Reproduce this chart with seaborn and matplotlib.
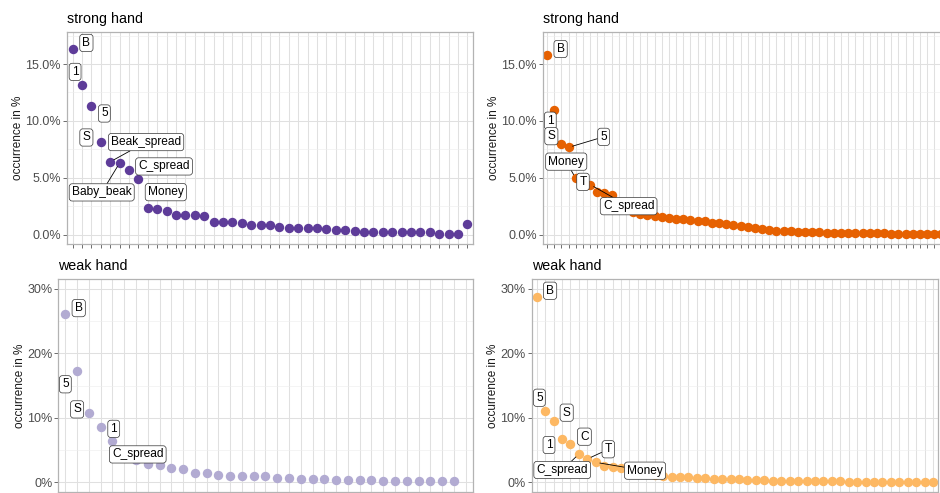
import numpy as np
import pandas as pd
import matplotlib
matplotlib.use("Agg")
import matplotlib.pyplot as plt
import seaborn as sns
from matplotlib.ticker import FuncFormatter, MultipleLocator

sns.set_theme(style="whitegrid")
plt.rcParams['font.family'] = ['Liberation Sans', 'DejaVu Sans']

# ---- data: share of each call type, sorted by frequency ----
# strong hand, group A (purple)
strong_a_labels = ["B", "1", "5", "S", "Beak_spread", "Baby_beak", "C_spread", "Money"]
strong_a_values = [16.3, 13.2, 11.3, 8.1, 6.4, 6.3, 5.7, 4.9,
                   2.3, 2.25, 2.1, 1.75, 1.75, 1.75, 1.6, 1.08, 1.08, 1.08, 1.0,
                   0.88, 0.88, 0.88, 0.67, 0.56, 0.56, 0.56, 0.56, 0.5, 0.41, 0.41,
                   0.32, 0.23, 0.23, 0.23, 0.23, 0.23, 0.18, 0.18, 0.18, 0.09, 0.09,
                   0.09, 0.96]

# strong hand, group B (orange)
strong_b_labels = ["B", "1", "S", "5", "Money", "T", "C_spread"]
strong_b_values = [15.8, 10.96, 7.97, 7.67, 4.95, 4.7, 4.4, 3.77, 3.63, 3.5,
                   2.6, 2.3, 2.0, 1.85, 1.72, 1.6, 1.57, 1.43, 1.36, 1.34, 1.28,
                   1.19, 1.16, 1.04, 0.99, 0.92, 0.84, 0.72, 0.63, 0.54, 0.46,
                   0.4, 0.34, 0.28, 0.28, 0.25, 0.25, 0.19, 0.19, 0.16, 0.16,
                   0.16, 0.16, 0.13, 0.1, 0.1, 0.1, 0.1, 0.07, 0.07, 0.07, 0.04,
                   0.04, 0.04, 0.04, 0.04]

# weak hand, group A (light purple); last category has no observation
weak_a_labels = ["B", "5", "S", "1", "C_spread"]
weak_a_values = [26.1, 17.3, 10.8, 8.6, 6.4, 4.6, 3.4, 2.84, 2.69, 2.17, 2.02,
                 1.52, 1.52, 1.15, 0.98, 0.98, 0.98, 0.98, 0.72, 0.72, 0.51,
                 0.51, 0.51, 0.33, 0.33, 0.33, 0.33, 0.18, 0.18, 0.18, 0.18,
                 0.18, 0.18, 0.18, np.nan]

# weak hand, group B (light orange)
weak_b_labels = ["B", "5", "S", "1", "C", "C_spread", "T", "Money"]
weak_b_values = [28.8, 11.1, 9.56, 6.72, 5.9, 4.39, 3.62, 3.1, 2.55, 2.38,
                 2.17, 2.0, 1.8, 1.5, 1.2, 1.0, 0.85, 0.8, 0.75, 0.65, 0.62,
                 0.55, 0.5, 0.48, 0.45, 0.38, 0.36, 0.34, 0.25, 0.22, 0.2, 0.2,
                 0.18, 0.16, 0.15, 0.14, 0.13, 0.12, 0.11, 0.1, 0.09, 0.08,
                 0.07, 0.06, 0.05, 0.04, 0.03, 0.02]

panel_titles = ["strong hand", "strong hand", "weak hand", "weak hand"]
panel_colors = ["#5e3c99", "#e66101", "#b2abd2", "#fdb863"]

# label offsets (points) and whether a leader segment is drawn
strong_a_offsets = [(9.9, 4.6, 0), (-5.0, 9.1, 0), (9.3, -5.3, 0), (-10.4, 3.6, 0),
                    (25.8, 14.2, 1), (-12.9, -21.2, 1), (25.2, 2.4, 0), (19.7, -9.6, 0)]
strong_b_offsets = [(9.8, 4.3, 0), (-2.8, -7.7, 0), (-7.2, 5.6, 0), (25.3, 7.6, 1),
                    (-6.8, 12.0, 1), (0.1, -0.5, 0), (27.8, -15.6, 1)]
weak_a_offsets = [(9.6, 4.3, 0), (-8.5, -9.7, 0), (-8.5, 2.4, 0), (9.4, -1.4, 0),
                  (18.2, -9.6, 0)]
weak_b_offsets = [(9.6, 4.3, 0), (-4.2, 9.4, 0), (9.4, 5.8, 0), (-9.4, -4.3, 0),
                  (10.0, 5.5, 0), (-12.0, -11.5, 1), (15.1, 7.0, 1), (35.5, -6.0, 1)]

W, H = 940, 493
fig = plt.figure(figsize=(W / 100, H / 100), dpi=100)


def px_axes(l, r, t, b):
    return fig.add_axes([l / W, 1 - b / H, (r - l) / W, (b - t) / H])


panels = [
    (px_axes(67, 473, 31.7, 244.2), strong_a_values, strong_a_labels, strong_a_offsets,
     (-0.85, 17.85), 5.0, 2.5, "{:.1f}%"),
    (px_axes(542.7, 945.7, 31.7, 244.2), strong_b_values, strong_b_labels, strong_b_offsets,
     (-0.85, 17.85), 5.0, 2.5, "{:.1f}%"),
    (px_axes(58.3, 472.7, 279.3, 492), weak_a_values, weak_a_labels, weak_a_offsets,
     (-1.5, 31.5), 10.0, 5.0, "{:.0f}%"),
    (px_axes(531.7, 938, 279.3, 492), weak_b_values, weak_b_labels, weak_b_offsets,
     (-1.5, 31.5), 10.0, 5.0, "{:.0f}%"),
]

for k, (ax, values, labels, offsets, ylim, major, minor, fmt) in enumerate(panels):
    n = len(values)
    names = labels + [""] * (n - len(labels))
    df = pd.DataFrame({"rank": np.arange(n), "share": values, "call": names})

    sns.scatterplot(data=df, x="rank", y="share", ax=ax, color=panel_colors[k],
                    s=46, linewidth=0, legend=False, zorder=2)

    ax.set_xlim(-0.6, n - 1 + 0.6)
    ax.set_ylim(*ylim)
    ax.set_xticks(np.arange(n))
    ax.set_xticklabels([])
    ax.yaxis.set_major_locator(MultipleLocator(major))
    ax.yaxis.set_minor_locator(MultipleLocator(minor))
    ax.yaxis.set_major_formatter(FuncFormatter(lambda v, p, f=fmt: f.format(v)))

    ax.grid(which="major", color="#E0E0E0", linewidth=0.75)
    ax.grid(which="minor", axis="y", color="#EDEDED", linewidth=0.4)
    ax.set_axisbelow(True)
    for sp in ax.spines.values():
        sp.set_visible(True)
        sp.set_color("#B3B3B3")
        sp.set_linewidth(0.9)

    ax.tick_params(which="major", bottom=True, left=True, length=2.75, width=0.6,
                   color="#555555", labelsize=9, labelcolor="#4D4D4D", pad=1.6)
    ax.tick_params(which="minor", length=0)

    ax.set_xlabel("")
    ax.set_ylabel("occurrence in %", fontsize=8.5, color="#1A1A1A", labelpad=1)
    ax.set_title(panel_titles[k], loc="left", fontsize=10.3, pad=6.5, color="black")

    for i, (txt, (dx, dy, seg)) in enumerate(zip(labels, offsets)):
        arrow = dict(arrowstyle="-", color="black", lw=0.6, shrinkA=0, shrinkB=3) if seg else None
        ax.annotate(txt, xy=(df["rank"][i], df["share"][i]), xytext=(dx, dy),
                    textcoords="offset points", ha="center", va="center",
                    fontsize=8.6, color="black", zorder=5,
                    bbox=dict(boxstyle="round,pad=0.22,rounding_size=0.25",
                              fc="white", ec="#333333", lw=0.5),
                    arrowprops=arrow)

fig.savefig("out.png", dpi=100)
